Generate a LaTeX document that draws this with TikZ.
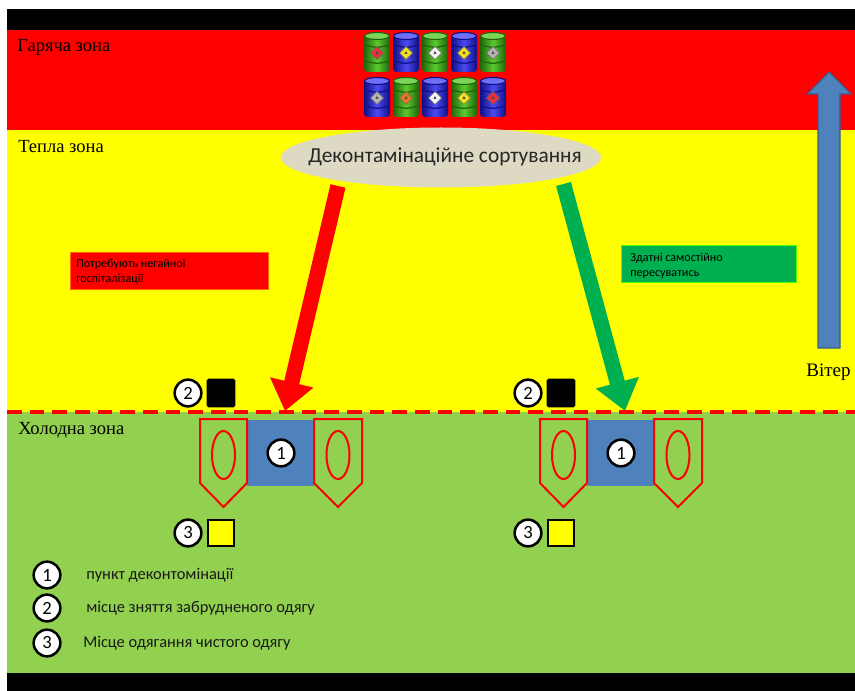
\documentclass[tikz,border=0pt]{standalone}
\usepackage{fontspec}
\setmainfont{Liberation Serif}
\newfontfamily\calib{Carlito}
\usetikzlibrary{arrows.meta,calc,shapes.geometric}

\definecolor{hotred}{HTML}{FF0000}
\definecolor{warmyellow}{HTML}{FFFF00}
\definecolor{coldgreen}{HTML}{92D050}
\definecolor{deconblue}{HTML}{4F81BD}
\definecolor{deconblueedge}{HTML}{385D8A}
\definecolor{mobilegreen}{HTML}{00B050}
\definecolor{sortgrey}{HTML}{DDD9C3}
\definecolor{gdark}{HTML}{1C640A}
\definecolor{glight}{HTML}{5CCB2E}
\definecolor{bdark}{HTML}{0E0E84}
\definecolor{blight}{HTML}{4B4BF2}
\definecolor{hzred}{HTML}{E8303A}
\definecolor{hzyellow}{HTML}{F2E01A}
\definecolor{hzwhite}{HTML}{F4F4F4}
\definecolor{hzgrey}{HTML}{B4B4B4}
\definecolor{hzorange}{HTML}{E8781E}

% one chemical drum: #1 x, #2 top y, #3 body colour prefix (g/b), #4 hazard label colour
\newcommand\chemdrum[4]{%
  \shade[left color=#3dark, right color=#3dark, middle color=#3light, rounded corners=2.5]
    (#1,#2+3) rectangle (#1+26,#2+40);
  \fill[#3light!80!white] (#1+13,#2+4) ellipse [x radius=12.5, y radius=3.5];
  \draw[#3dark, line width=0.8pt] (#1+13,#2+4) ellipse [x radius=12.5, y radius=3.5];
  \draw[#3dark, line width=0.9pt] (#1+0.5,#2+13) .. controls (#1+13,#2+16) .. (#1+25.5,#2+13);
  \draw[#3dark, line width=0.9pt] (#1+0.5,#2+29) .. controls (#1+13,#2+32) .. (#1+25.5,#2+29);
  \filldraw[fill=#4, draw=black!60, line width=0.3pt]
    (#1+13,#2+14.5) -- (#1+19.5,#2+21) -- (#1+13,#2+27.5) -- (#1+6.5,#2+21) -- cycle;
  \fill[black!70] (#1+13,#2+19) -- (#1+14.6,#2+22) -- (#1+11.4,#2+22) -- cycle;
}

\tikzset{
  zonelabel/.style={anchor=west, inner sep=0pt, font=\fontsize{13.9}{16}\selectfont},
  numcircle/.style={circle, draw=black, line width=1.9pt, fill=white, minimum size=20pt,
    inner sep=0pt, font=\calib\fontsize{14}{14}\selectfont},
  legendtext/.style={anchor=west, inner sep=0pt, text=black!90, font=\calib\fontsize{12.3}{14}\selectfont},
  boxtext/.style={anchor=north west, inner sep=0pt, align=left, text=black,
    font=\calib\fontsize{9.1}{11.5}\selectfont},
  pocket/.style={draw=hotred, line width=1.5pt, fill=coldgreen},
  triage/.style={line width=11.5pt, -{Triangle[width=32pt,length=22pt]}},
}

\begin{document}
\begin{tikzpicture}[x=0.75pt,y=-0.75pt]
\useasboundingbox (0,0) rectangle (855,691);

% zone bands
\fill[black] (7,9) rectangle (855,30);
\fill[hotred] (7,30) rectangle (855,130);
\fill[warmyellow] (7,130) rectangle (855,412);
\fill[coldgreen] (7,412) rectangle (855,673);
\fill[black] (7,673) rectangle (855,691);

% zone names
\node[zonelabel] (hot) at (17,47) {Гаряча зона};
\node[zonelabel] (warm) at (18,147) {Тепла зона};
\node[zonelabel] (cold) at (18,430) {Холодна зона};

% hazardous drums
\chemdrum{364}{32}{g}{hzred}
\chemdrum{393}{32}{b}{hzyellow}
\chemdrum{422}{32}{g}{hzwhite}
\chemdrum{451}{32}{b}{hzyellow}
\chemdrum{480}{32}{g}{hzgrey}
\chemdrum{364}{77}{b}{hzgrey}
\chemdrum{393}{77}{g}{hzorange}
\chemdrum{422}{77}{b}{hzwhite}
\chemdrum{451}{77}{g}{hzyellow}
\chemdrum{480}{77}{b}{hzred}

% triage point
\node[ellipse, fill=sortgrey, minimum width=240pt, minimum height=45pt, inner sep=0pt] (sort) at (441,157.5) {};
\node[inner sep=0pt, text=black!85, font=\calib\fontsize{16}{18}\selectfont] (sortlabel) at (445,157) {Деконтамінаційне сортування};

% category labels
\filldraw[fill=hotred, draw=orange!80!red, line width=0.4pt] (70,252) rectangle (268,289);
\node[boxtext] (boxred) at (76,258.5) {Потребують негайної\\госпіталізації};
\filldraw[fill=mobilegreen, draw=green!70!yellow, line width=0.4pt] (621,245) rectangle (796,282);
\node[boxtext] (boxgreen) at (630,252.5) {Здатні самостійно\\пересуватись};

% wind direction
\filldraw[fill=deconblue, draw=deconblueedge, line width=0.8pt]
  (818,348) -- (818,94) -- (807,94) -- (829,72) -- (851,94) -- (840,94) -- (840,348) -- cycle;
\node[anchor=west, inner sep=0pt, font=\fontsize{14.3}{16}\selectfont] (wind) at (806,372) {Вітер};

% decontamination units
\foreach \pre/\dx in {a/0, b/340} {
  \begin{scope}[shift={(\dx,0)}, name prefix=\pre-]
    \fill[deconblue] (247,420) rectangle (314,486);
    \filldraw[pocket] (200,419) -- (247,419) -- (247,483) -- (223.5,507) -- (200,483) -- cycle;
    \filldraw[pocket] (314,419) -- (362,419) -- (362,483) -- (338,507) -- (314,483) -- cycle;
    \draw[hotred, line width=1.5pt] (223.5,455) ellipse [x radius=11.5, y radius=24];
    \draw[hotred, line width=1.5pt] (338,455) ellipse [x radius=11.5, y radius=24];
    \node[numcircle] (n1) at (281,453) {1};
    \node[numcircle] (n2) at (188,393) {2};
    \node[draw=black, line width=1pt, fill=black, rounded corners=1pt, minimum size=20.5pt, inner sep=0pt] (undress) at (221,393) {};
    \node[numcircle] (n3) at (188,533) {3};
    \node[draw=black, line width=1.5pt, fill=warmyellow, minimum size=19.5pt, inner sep=0pt] (dress) at (221,533) {};
    \coordinate (entry) at (285,411);
  \end{scope}
}

% routes from the triage point
\coordinate (redstart) at (338,186);
\coordinate (greenstart) at (563.5,184);
\draw[triage, hotred] (redstart) -- (a-entry);
\draw[triage, mobilegreen] (greenstart) -- (b-entry);

% warm / cold boundary
\draw[hotred, line width=2.4pt, dash pattern=on 11 off 6] (7,412) -- (855,412);

% legend
\node[numcircle] (l1) at (47,575) {1};
\node[numcircle] (l2) at (47,608) {2};
\node[numcircle] (l3) at (47,643) {3};
\node[legendtext] (t1) at (86,575) {пункт деконтомінації};
\node[legendtext] (t2) at (86,608) {місце зняття забрудненого одягу};
\node[legendtext] (t3) at (83,643) {Місце одягання чистого одягу};
\end{tikzpicture}
\end{document}
